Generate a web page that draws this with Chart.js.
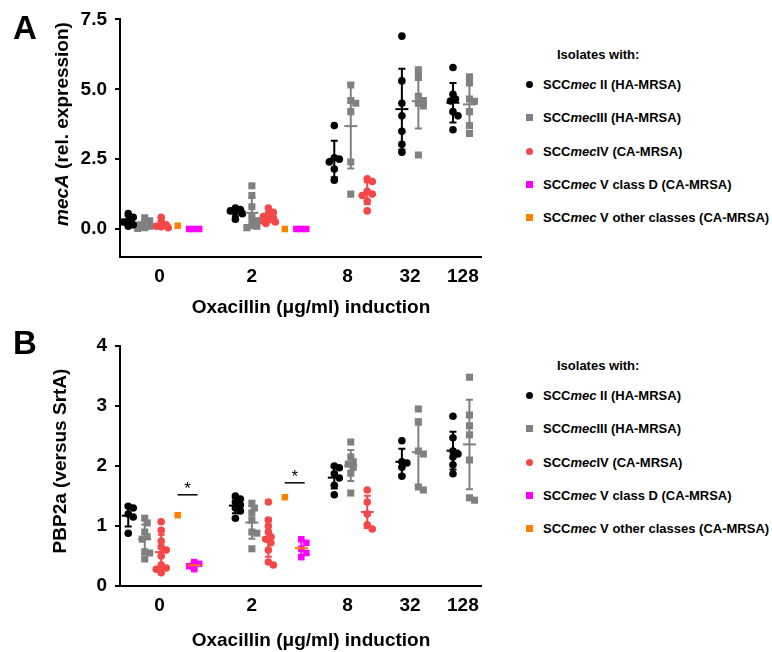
<!DOCTYPE html>
<html>
<head>
<meta charset="utf-8">
<script src="https://cdn.jsdelivr.net/npm/chart.js@4.4.1/dist/chart.umd.min.js"></script>
<style>
  body { margin: 0; background: #fff; }
  #page { position: relative; width: 772px; height: 652px; font-family: "Liberation Sans", Arial, sans-serif; font-weight: bold; color: #000; overflow: hidden; }
  canvas { position: absolute; left: 0; }
  .txt { position: absolute; white-space: nowrap; }
  .letter { font-size: 33px; line-height: 33px; }
  .xtitle { font-size: 19px; transform: translate(-50%, -50%); }
  .ytitle { font-size: 19px; transform: translate(-50%, -50%) rotate(-90deg); }
  .legend { position: absolute; left: 526px; font-size: 13px; }
  .legend .hdr { padding-left: 31px; height: 26px; line-height: 26px; }
  .legend .row { height: 33.3px; line-height: 33.3px; }
  .mk { display: inline-block; width: 7px; height: 7px; margin-right: 10px; vertical-align: middle; position: relative; top: -1px; }
  .mk.circle { border-radius: 50%; }
</style>
</head>
<body>
<div id="page">
  <canvas id="chartA" width="500" height="320" style="top:0"></canvas>
  <canvas id="chartB" width="500" height="332" style="top:320px"></canvas>

  <div class="txt letter" style="left:13px;top:11px">A</div>
  <div class="txt letter" style="left:13px;top:326px">B</div>

  <div class="txt ytitle" style="left:62px;top:124px"><i>mecA</i> (rel. expression)</div>
  <div class="txt ytitle" style="left:60px;top:461px">PBP2a (versus SrtA)</div>

  <div class="txt xtitle" style="left:311px;top:307px">Oxacillin (μg/ml) induction</div>
  <div class="txt xtitle" style="left:311px;top:640px">Oxacillin (μg/ml) induction</div>

  <div class="legend" id="legendA" style="top:42px"></div>
  <div class="legend" id="legendB" style="top:353px"></div>
</div>

<script>
// oxacillin concentrations (µg/ml)
const categories = ['0', '2', '8', '32', '128'];

// series order: SCCmec II, III, IV, V class D, V other classes
const seriesNames = [
  'SCC<i>mec</i> II (HA-MRSA)',
  'SCC<i>mec</i>III (HA-MRSA)',
  'SCC<i>mec</i>IV (CA-MRSA)',
  'SCC<i>mec</i> V class D (CA-MRSA)',
  'SCC<i>mec</i> V other classes (CA-MRSA)',
];

// A: mecA relative expression, one list per concentration
const mecA_II = [
  [0.55, 0.42, 0.3, 0.25, 0.15, 0.1],
  [0.75, 0.7, 0.65, 0.6, 0.55, 0.35],
  [3.7, 2.55, 2.5, 2.4, 2.15, 1.75],
  [6.9, 5.3, 4.5, 4.05, 3.5, 3.03, 2.75],
  [5.78, 4.82, 4.65, 4.58, 4.2, 4.05, 3.55],
];
const mecA_III = [
  [0.4, 0.3, 0.2, 0.15, 0.1, 0.05, 0.02],
  [1.55, 1.2, 0.8, 0.45, 0.3, 0.2, 0.1, 0.05],
  [5.15, 4.6, 4.5, 4.2, 2.4, 1.25],
  [5.7, 5.42, 4.75, 4.6, 4.5, 4.4, 2.65],
  [5.45, 5.23, 4.65, 4.57, 4.2, 3.7, 3.42],
];
const mecA_IV = [
  [0.42, 0.22, 0.15, 0.1, 0.08, 0.05],
  [0.75, 0.6, 0.5, 0.45, 0.4, 0.35, 0.3, 0.25, 0.2],
  [1.8, 1.7, 1.35, 1.25, 1.2, 1.0, 0.65],
];
const mecA_VD = [
  [0, 0, 0],
  [0, 0, 0],
];
const mecA_Vo = [
  [0.12],
  [0.0],
];

// B: PBP2a versus SrtA
const pbp_II = [
  [1.33, 1.3, 1.2, 1.15, 0.88],
  [1.5, 1.45, 1.4, 1.35, 1.3, 1.25, 1.13],
  [2.0, 1.97, 1.87, 1.8, 1.68, 1.52],
  [2.42, 2.07, 2.05, 1.98, 1.83],
  [2.83, 2.47, 2.25, 2.2, 2.15, 2.02, 1.87],
];
const pbp_III = [
  [1.13, 1.05, 0.9, 0.82, 0.78, 0.57, 0.55, 0.45],
  [1.38, 1.3, 1.22, 1.1, 0.9, 0.88, 0.62],
  [2.4, 2.15, 2.07, 2.03, 1.98, 1.88, 1.55],
  [2.95, 2.73, 2.25, 2.2, 1.65, 1.6],
  [3.48, 2.85, 2.67, 2.52, 2.1, 1.47, 1.43],
];
const pbp_IV = [
  [1.07, 0.93, 0.75, 0.65, 0.6, 0.5, 0.35, 0.3, 0.28, 0.22],
  [1.4, 1.1, 1.0, 0.9, 0.82, 0.78, 0.72, 0.6, 0.4, 0.35],
  [1.6, 1.4, 1.2, 1.02, 0.95],
];
const pbp_VD = [
  [0.4, 0.37, 0.33, 0.28],
  [0.78, 0.72, 0.62, 0.55, 0.48],
];
const pbp_Vo = [
  [1.18],
  [1.48],
];
// significance bars (*) between V class D and V other, at 0 and 2 µg/ml
const pbp_sig = [1.52, 1.72];

const yTicksA = [0, 2.5, 5, 7.5];
const yTicksB = [0, 1, 2, 3, 4];

// layout: x axis in "slots", one slot per group
const tickPos = [1.9, 7.5, 13.3, 17.1, 20.3];
const slotStart = [0, 6.5, 12.5, 16.6, 19.7];
const seriesSlot = [0, 1, 2, 4, 3];
const xMin = -0.5, xMax = 21.4;
const plotW = 361;

const colors = ['#000000', '#808080', '#f44848', '#ff00ff', '#ff8000'];
const meanColors = ['#000000', '#808080', '#f44848', '#ff8000', '#ff8000'];
const shapes = ['circle', 'rect', 'circle', 'rect', 'rect'];
const radii = [3.8, 5, 3.8, 4.6, 4.6];
const font = '"Liberation Sans", Arial, sans-serif';

// spread points that would overlap, like a column scatter
function swarm(values, center, pxX, pxY) {
  const placed = [];
  const out = new Array(values.length);
  const order = values.map((v, i) => i).sort((a, b) => values[b] - values[a]);
  const tries = [0, 2.5, -2.5, 5, -5, 7, -7];
  for (const i of order) {
    const py = values[i] * pxY;
    let best = 0, bestD = -1;
    for (const dx of tries) {
      let d = Infinity;
      for (const p of placed) d = Math.min(d, Math.hypot(p.x - dx, p.y - py));
      if (d >= 5) { best = dx; bestD = d; break; }
      if (d > bestD) { best = dx; bestD = d; }
    }
    placed.push({ x: best, y: py });
    out[i] = { x: center + best / pxX, y: values[i] };
  }
  return out;
}

const errorBars = {
  id: 'errbars',
  afterDatasetsDraw(chart, args, opts) {
    const { ctx } = chart;
    const x = chart.scales.x, y = chart.scales.y;
    ctx.save();
    ctx.lineWidth = 2;
    for (const g of opts.groups) {
      const n = g.values.length;
      if (n < 2) continue;
      const mean = g.values.reduce((a, b) => a + b, 0) / n;
      const sd = Math.sqrt(g.values.reduce((a, b) => a + (b - mean) ** 2, 0) / (n - 1));
      if (sd === 0) continue;
      const px = x.getPixelForValue(g.x);
      const top = y.getPixelForValue(mean + sd);
      const bot = y.getPixelForValue(mean - sd);
      const mid = y.getPixelForValue(mean);
      ctx.strokeStyle = g.color;
      ctx.beginPath();
      ctx.moveTo(px, top); ctx.lineTo(px, bot);
      ctx.moveTo(px - 3.5, top); ctx.lineTo(px + 3.5, top);
      ctx.moveTo(px - 3.5, bot); ctx.lineTo(px + 3.5, bot);
      ctx.stroke();
      ctx.strokeStyle = g.meanColor;
      ctx.beginPath();
      ctx.moveTo(px - 6.5, mid); ctx.lineTo(px + 6.5, mid);
      ctx.stroke();
    }
    ctx.lineWidth = 1.5;
    ctx.strokeStyle = '#000';
    ctx.fillStyle = '#000';
    ctx.font = '17px ' + font;
    ctx.textAlign = 'center';
    ctx.textBaseline = 'alphabetic';
    for (const s of opts.sig) {
      const px = x.getPixelForValue(s.x);
      const py = y.getPixelForValue(s.y);
      ctx.beginPath();
      ctx.moveTo(px - 10, py); ctx.lineTo(px + 10, py);
      ctx.stroke();
      ctx.fillText('*', px, py - 1);
    }
    ctx.restore();
  },
};

function buildChart(id, series, yMin, yMax, yTicks, digits, padTop, axisH, plotH, sigLevels) {
  const pxX = plotW / (xMax - xMin);
  const pxY = plotH / (yMax - yMin);
  const groups = [];
  const datasets = series.map((rows, s) => {
    const pts = [];
    rows.forEach((vals, c) => {
      const cx = slotStart[c] + seriesSlot[s];
      pts.push(...swarm(vals, cx, pxX, pxY));
      groups.push({ x: cx, values: vals, color: colors[s], meanColor: meanColors[s] });
    });
    return {
      label: seriesNames[s],
      data: pts,
      backgroundColor: colors[s],
      borderWidth: 0,
      pointStyle: shapes[s],
      pointRadius: radii[s],
      pointHoverRadius: radii[s],
    };
  });
  const sig = sigLevels.map((v, c) => ({ x: slotStart[c] + 3.6, y: v }));

  return new Chart(document.getElementById(id).getContext('2d'), {
    type: 'scatter',
    data: { datasets },
    plugins: [errorBars],
    options: {
      responsive: false,
      animation: false,
      layout: { padding: { left: 0, right: 19, top: padTop, bottom: 0 } },
      plugins: {
        legend: { display: false },
        tooltip: { enabled: false },
        errbars: { groups, sig },
      },
      scales: {
        x: {
          type: 'linear',
          min: xMin,
          max: xMax,
          afterBuildTicks: (sc) => { sc.ticks = tickPos.map((v) => ({ value: v })); },
          afterFit: (sc) => { sc.height = axisH; },
          ticks: {
            autoSkip: false,
            maxRotation: 0,
            padding: 8,
            color: '#000',
            font: { family: font, size: 19, weight: 'bold' },
            callback: (v, i) => categories[i],
          },
          grid: { display: false, drawTicks: false },
          border: { display: true, color: '#000', width: 2 },
        },
        y: {
          min: yMin,
          max: yMax,
          afterBuildTicks: (sc) => { sc.ticks = yTicks.map((v) => ({ value: v })); },
          afterFit: (sc) => { sc.width = 120; },
          ticks: {
            padding: 8,
            color: '#000',
            font: { family: font, size: 19, weight: 'bold' },
            callback: (v) => v.toFixed(digits),
          },
          grid: { drawOnChartArea: false, drawTicks: true, tickLength: 5, color: '#000', lineWidth: 2 },
          border: { display: true, color: '#000', width: 2 },
        },
      },
    },
  });
}

function buildLegend(id) {
  let html = '<div class="hdr">Isolates with:</div>';
  const legendOrder = [0, 1, 2, 3, 4];
  for (const s of legendOrder) {
    html += '<div class="row"><span class="mk ' + shapes[s] + '" style="background:' + colors[s] + '"></span>' + seriesNames[s] + '</div>';
  }
  document.getElementById(id).innerHTML = html;
}

window['chartA'] = buildChart('chartA', [mecA_II, mecA_III, mecA_IV, mecA_VD, mecA_Vo], -1, 7.5, yTicksA, 1, 15, 63, 242, []);
window['chartB'] = buildChart('chartB', [pbp_II, pbp_III, pbp_IV, pbp_VD, pbp_Vo], 0, 4, yTicksB, 0, 26, 66, 240, pbp_sig);
buildLegend('legendA');
buildLegend('legendB');
</script>
</body>
</html>
